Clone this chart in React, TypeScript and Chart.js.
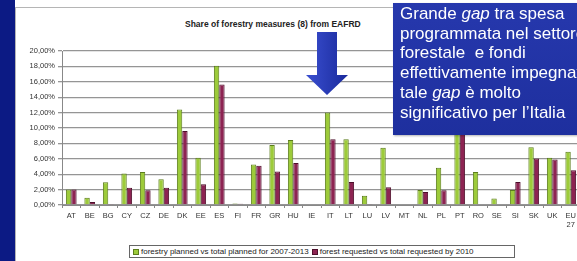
import React, { useEffect, useRef } from "react";
import { Chart, registerables } from "chart.js";

Chart.register(...registerables);

const categories: (string | string[])[] = [
  "AT", "BE", "BG", "CY", "CZ", "DE", "DK", "EE", "ES", "FI", "FR", "GR", "HU", "IE",
  "IT", "LT", "LU", "LV", "MT", "NL", "PL", "PT", "RO", "SE", "SI", "SK", "UK", ["EU", "27"],
];
const plannedShare = [
  2.0, 0.95, 2.95, 4.1, 4.3, 3.35, 12.4, 6.15, 18.1, 0.2, 5.25, 7.8, 8.45, 0,
  12.0, 8.55, 1.2, 7.45, 0, 1.95, 4.85, 13.8, 4.3, 0.85, 1.95, 7.5, 6.15, 6.9,
];
const requestedShare = [
  2.0, 0.4, 0.05, 2.25, 1.9, 2.25, 9.6, 2.7, 15.65, 0.15, 5.1, 4.35, 5.45, 0,
  8.55, 3.0, 0.12, 2.3, 0, 1.7, 1.9, 12.6, 0, 0.1, 3.0, 6.05, 5.9, 4.5,
];
const seriesLabels = [
  "forestry planned vs total planned for 2007-2013",
  "forest requested vs total requested by 2010",
];
const yMin = 0;
const yMax = 20;
const yStep = 2;
const chartTitle = "Share of forestry measures (8) from EAFRD";
const noteLines = [
  ["Grande ", "gap", " tra spesa"],
  ["programmata nel settore", "", ""],
  ["forestale  e fondi", "", ""],
  ["effettivamente impegnati", "", ""],
  ["tale ", "gap", " è molto"],
  ["significativo per l’Italia", "", ""],
];

const GREEN = "#9dcb3a";
const GREEN_EDGE = "#5b7d1c";
const RED = "#8d2452";
const RED_EDGE = "#4d0f2b";
const FONT = "'Liberation Sans', Arial, sans-serif";

export default function App() {
  const ref = useRef<HTMLCanvasElement | null>(null);

  useEffect(() => {
    if (!ref.current) return;
    const chart = new Chart(ref.current, {
      type: "bar",
      data: {
        labels: categories as any,
        datasets: [
          {
            label: seriesLabels[0],
            data: plannedShare,
            backgroundColor: GREEN,
            borderColor: GREEN_EDGE,
            borderWidth: 1,
            categoryPercentage: 0.58,
            barPercentage: 1,
          },
          {
            label: seriesLabels[1],
            data: requestedShare,
            backgroundColor: RED,
            borderColor: RED_EDGE,
            borderWidth: 1,
            categoryPercentage: 0.58,
            barPercentage: 1,
          },
        ],
      },
      options: {
        animation: false,
        responsive: false,
        devicePixelRatio: 1,
        layout: { padding: { top: 11, left: 0, right: 0, bottom: 0 } },
        plugins: {
          legend: { display: false },
          title: { display: false },
          tooltip: { enabled: false },
        },
        scales: {
          x: {
            grid: {
              display: true,
              drawOnChartArea: false,
              drawTicks: true,
              tickLength: 3,
              color: "#888",
              offset: true,
            },
            border: { display: true, color: "#888", width: 1 },
            ticks: {
              color: "#333",
              font: { family: FONT, size: 7.5 },
              padding: 3,
              maxRotation: 0,
              autoSkip: false,
            },
            afterFit: (s: any) => {
              s.height = 25;
            },
          },
          y: {
            min: yMin,
            max: yMax,
            grid: {
              color: "#959595",
              lineWidth: 1.3,
              tickLength: 4,
            },
            border: { display: true, color: "#888", width: 1 },
            ticks: {
              stepSize: yStep,
              color: "#333",
              font: { family: FONT, size: 7.5 },
              padding: 3,
              callback: (v: any) => Number(v).toFixed(2).replace(".", ",") + "%",
            },
            afterFit: (s: any) => {
              s.width = 46;
            },
          },
        },
      },
    });
    return () => chart.destroy();
  }, []);

  return (
    <div
      style={{
        position: "absolute",
        left: 0,
        top: 0,
        width: 577,
        height: 261,
        overflow: "hidden",
        background: "#fff",
        fontFamily: FONT,
      }}
    >
      <div
        style={{
          position: "absolute",
          left: 15,
          top: 7,
          width: 620,
          height: 280,
          border: "1px solid #b5b5b5",
          background: "#fff",
        }}
      />
      <div
        style={{
          position: "absolute",
          left: 0,
          top: 0,
          width: 15,
          height: 261,
          background: "#0c1a84",
        }}
      />
      <div
        style={{
          position: "absolute",
          left: 185,
          top: 18,
          fontSize: 8.5,
          fontWeight: "bold",
          color: "#222",
          whiteSpace: "nowrap",
          lineHeight: "12px",
        }}
      >
        {chartTitle}
      </div>
      <canvas
        ref={ref}
        width={564}
        height={190}
        style={{ position: "absolute", left: 16, top: 40, width: 564, height: 190 }}
      />
      <div
        style={{
          position: "absolute",
          left: 129,
          top: 245,
          width: 381,
          height: 11,
          border: "1px solid #666",
          background: "#fff",
          display: "flex",
          alignItems: "center",
          fontSize: 8,
          color: "#222",
          whiteSpace: "nowrap",
          paddingLeft: 3,
          boxSizing: "content-box",
        }}
      >
        {seriesLabels.map((lab, i) => (
          <span key={i} style={{ display: "flex", alignItems: "center", marginRight: 3 }}>
            <span
              style={{
                display: "inline-block",
                width: 4,
                height: 4,
                background: i === 0 ? GREEN : RED,
                border: `1px solid ${i === 0 ? GREEN_EDGE : RED_EDGE}`,
                marginRight: 2,
              }}
            />
            {lab}
          </span>
        ))}
      </div>
      <svg
        width={577}
        height={261}
        style={{ position: "absolute", left: 0, top: 0, pointerEvents: "none" }}
      >
        <defs>
          <linearGradient id="arrowGrad" x1="0" y1="0" x2="1" y2="0">
            <stop offset="0" stopColor="#3a4fd0" />
            <stop offset="1" stopColor="#1a2a9c" />
          </linearGradient>
        </defs>
        <polygon
          points="317,32 337,32 337,75 348,75 327,95 306,75 317,75"
          fill="url(#arrowGrad)"
        />
      </svg>
      <div
        style={{
          position: "absolute",
          left: 393,
          top: 3,
          width: 220,
          height: 132,
          background: "linear-gradient(180deg, #2638ad 0%, #1e2f9e 100%)",
          color: "#fff",
          fontSize: 17,
          lineHeight: "19.7px",
          paddingLeft: 7,
          paddingTop: 1,
          boxSizing: "border-box",
          whiteSpace: "pre",
          boxShadow: "1px 1px 2px rgba(0,0,0,0.3)",
        }}
      >
        {noteLines.map((ln, i) => (
          <div key={i}>
            {ln[0]}
            {ln[1] ? <i>{ln[1]}</i> : null}
            {ln[2]}
          </div>
        ))}
      </div>
    </div>
  );
}
